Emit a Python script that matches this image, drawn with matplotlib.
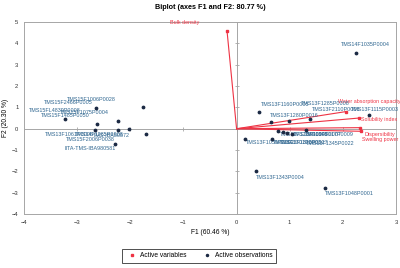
import numpy as np
import matplotlib
matplotlib.use("Agg")
from matplotlib import pyplot as plt
from matplotlib.lines import Line2D

plt.rcParams['font.family'] = ['Liberation Sans', 'DejaVu Sans']

# active variables (loadings, F1/F2)
var_names = ['Bulk density', 'Water absorption capacity', 'Solubility index',
             'Dispersibility', 'Swelling power']
var_f1 = [-0.18, 2.05, 2.30, 2.32, 2.35]
var_f2 = [4.59, 0.80, 0.50, 0.05, -0.12]
var_off = [(-42, 8), (24, 10), (20, -1), (20, -7), (19, -8)]

# active observations (scores, F1/F2)
obs_names = ['TMS15F1006P0028', 'TMS15F2466P0005', 'TMS15F1485P0050', 'TMS15F1075P0004',
             'TMS15FL4839P0008', 'TMS-IBA50572', 'TMS15F2006P0038', 'TMS13F1061P0006',
             'TMS14F1285P0003', 'IITA-TMS-IBA980581',
             'TMS13F1160P0005', 'TMS13F1280P0016', 'TMS13F1285P0008', 'TMS13F2110P0006',
             'TMS13F1115P0003', 'TMS13F1288P0005', 'TMS13F1017P0009', 'TMS13F1323P0027',
             'TMS13F1345P0022', 'TMS13F1094P0007', 'TMS13F1059P0002', 'TMS13F1301P0003',
             'TMS14F1035P0004', 'TMS13F1343P0004', 'TMS13F1048P0001']
obs_f1 = [-2.64, -1.76, -3.23, -2.62, -2.24, -2.03, -2.66, -2.24, -1.70, -2.28,
          0.43, 0.65, 0.98, 1.39, 2.50, 0.78, 0.87, 0.94, 1.04, 1.31, 0.16, 0.67,
          2.25, 0.36, 1.67]
obs_f2 = [0.97, 1.04, 0.47, 0.22, 0.36, -0.02, -0.05, -0.08, -0.27, -0.73,
          0.78, 0.31, 0.34, 0.47, 0.62, -0.12, -0.15, -0.19, -0.25, -0.08, -0.47, -0.50,
          3.55, -1.98, -2.77]
obs_off = [(-5, 9), (-75, 4), (0, 3), (-13, 12), (-63, 11), (-17, -6), (-5, -10), (-48, -4),
           (-47, 0), (-25, -4),
           (26, 8), (23, 7), (37, 18), (26, 9), (5, 6), (26, -3), (47, -3), (18, -10),
           (38, -9), (11, -4), (25, -4), (25, -3), (9, 8), (25, -6), (24, -6)]

red = '#EE3344'
navy = '#1C2A44'
lblue = '#2F6690'
grey = '#A6A6A6'

fig = plt.figure(figsize=(4, 2.68), dpi=100)
ax = fig.add_axes([0.06, 0.201, 0.93, 0.717])

ax.set_xlim(-4, 3)
ax.set_ylim(-4, 5)
ax.axhline(0, color=grey, lw=0.7, zorder=1)
ax.axvline(0, color=grey, lw=0.7, zorder=1)
# small ticks on the zero lines
ax.scatter(np.arange(-4, 4), np.zeros(8), marker='|', s=8, color=grey, lw=0.6, zorder=1)
ax.scatter(np.zeros(10), np.arange(-4, 6), marker='_', s=8, color=grey, lw=0.6, zorder=1)

for name, x, y, off in zip(var_names, var_f1, var_f2, var_off):
    ax.plot([0, x], [0, y], color=red, lw=0.8, zorder=2)
    ax.plot(x, y, 's', color=red, ms=1.5, zorder=3)
    ax.annotate(name, (x, y), xytext=off, textcoords='offset pixels',
                ha='center', va='center', fontsize=3.9, color=red, annotation_clip=False)

ax.scatter(obs_f1, obs_f2, s=3, color=navy, zorder=4)
for name, x, y, off in zip(obs_names, obs_f1, obs_f2, obs_off):
    ax.annotate(name, (x, y), xytext=off, textcoords='offset pixels',
                ha='center', va='center', fontsize=3.9, color=lblue, annotation_clip=False)

for s in ax.spines.values():
    s.set_color(grey)
    s.set_linewidth(0.7)
ax.set_xticks(range(-4, 4))
ax.set_yticks(range(-4, 6))
ax.tick_params(length=0, labelsize=4.2, pad=4, colors='#333333')
ax.set_xlabel('F1 (60.46 %)', fontsize=4.8, labelpad=3)
ax.set_ylabel('F2 (20.30 %)', fontsize=4.8, labelpad=2)
ax.set_title('Biplot (axes F1 and F2: 80.77 %)', fontsize=5.2, fontweight='bold', pad=9)

handles = [Line2D([], [], ls='none', marker='s', ms=1.5, color=red, label='Active variables'),
           Line2D([], [], ls='none', marker='o', ms=1.5, color=navy, label='Active observations')]
leg = fig.legend(handles=handles, loc='center', bbox_to_anchor=(0.4975, 0.045), ncol=2,
                 fontsize=4.8, frameon=True, fancybox=False, edgecolor='black',
                 handletextpad=0.3, columnspacing=2.0, borderpad=0.5)
leg.get_frame().set_linewidth(0.6)

fig.savefig('out.png', dpi=100)
